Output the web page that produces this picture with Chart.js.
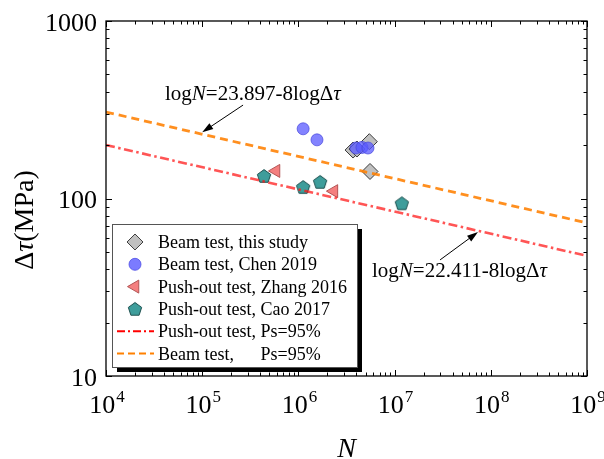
<!DOCTYPE html>
<html>
<head>
<meta charset="utf-8">
<script src="https://cdn.jsdelivr.net/npm/chart.js@4.4.0/dist/chart.umd.min.js"></script>
<style>
    html, body { margin: 0; padding: 0; background: #fff; }
    canvas { display: block; }
</style>
</head>
<body>
<canvas id="fatigueChart" width="604" height="459"></canvas>
<script>
// values (N = cycles, tau = stress range in MPa)
const thisStudyN = [5.46e6, 5.55e6, 3.70e6, 4.06e6];
const thisStudyTau = [209, 142, 187.5, 190];
const chenN = [1.12e6, 1.56e6, 3.97e6, 4.58e6, 5.29e6];
const chenTau = [247, 214, 192.5, 194, 192.5];
const zhangN = [5.85e5, 2.34e6];
const zhangTau = [143, 110];
const caoN = [4.39e5, 1.12e6, 1.68e6, 1.19e7];
const caoTau = [134, 116, 124, 94];
// design lines, end points at the axis limits
const lineN = [1e4, 1e9];
const beamLineTau = [307, 72.8];
const pushLineTau = [200, 47.5];
// axes
const xTickValues = [1e4, 1e5, 1e6, 1e7, 1e8, 1e9];
const xTickExp = ['4', '5', '6', '7', '8', '9'];
const yTickValues = [10, 100, 1000];
const yTickLabels = ['10', '100', '1000'];

const SERIF = '"Liberation Serif", "Times New Roman", serif';

function toPoints(xs, ys) {
    return xs.map((x, i) => ({x: x, y: ys[i]}));
}

// pentagon marker as an image, chart.js has no pentagon pointStyle
function makePentagon(r) {
    const c = document.createElement('canvas');
    const s = Math.ceil(r * 2 + 4);
    c.width = s;
    c.height = s;
    const g = c.getContext('2d');
    g.beginPath();
    for (let i = 0; i < 5; i++) {
        const a = -Math.PI / 2 + i * 2 * Math.PI / 5;
        const px = s / 2 + r * Math.cos(a);
        const py = s / 2 + 0.6 + r * Math.sin(a);
        if (i === 0) g.moveTo(px, py); else g.lineTo(px, py);
    }
    g.closePath();
    g.fillStyle = '#3e9d9b';
    g.fill();
    g.lineWidth = 1;
    g.strokeStyle = '#1d4f4e';
    g.stroke();
    return c;
}
const pentagonImg = makePentagon(7);

// annotation text, drawn as runs (italic where the figure has italics)
const annotations = [
    {
        at: [4.1e4, 361],
        tail: [2.66e5, 336],
        tip: [1.0e5, 236],
        runs: [['log', false], ['N', true], ['=23.897-8log\u0394', false], ['\u03c4', true]],
    },
    {
        at: [5.82e6, 36.1],
        tail: [2.97e7, 45.1],
        tip: [7.36e7, 64.7],
        runs: [['log', false], ['N', true], ['=22.411-8log\u0394', false], ['\u03c4', true]],
    },
];

function drawRuns(ctx, runs, x, y, size) {
    let cx = x;
    runs.forEach(([t, it]) => {
        ctx.font = (it ? 'italic ' : '') + size + 'px ' + SERIF;
        ctx.fillText(t, cx, y);
        cx += ctx.measureText(t).width;
    });
}

function drawArrow(ctx, x0, y0, x1, y1) {
    const ang = Math.atan2(y1 - y0, x1 - x0);
    const hl = 11, hw = 3.5;
    ctx.beginPath();
    ctx.moveTo(x0, y0);
    ctx.lineTo(x1 - Math.cos(ang) * hl * 0.8, y1 - Math.sin(ang) * hl * 0.8);
    ctx.lineWidth = 1;
    ctx.strokeStyle = '#000';
    ctx.stroke();
    ctx.beginPath();
    ctx.moveTo(x1, y1);
    ctx.lineTo(x1 - Math.cos(ang) * hl - Math.sin(ang) * hw, y1 - Math.sin(ang) * hl + Math.cos(ang) * hw);
    ctx.lineTo(x1 - Math.cos(ang) * hl + Math.sin(ang) * hw, y1 - Math.sin(ang) * hl - Math.cos(ang) * hw);
    ctx.closePath();
    ctx.fillStyle = '#000';
    ctx.fill();
}

function legendMarker(ctx, kind, x, y) {
    ctx.save();
    ctx.lineWidth = 1;
    if (kind === 'diamond') {
        ctx.beginPath();
        ctx.moveTo(x - 8, y); ctx.lineTo(x, y - 8); ctx.lineTo(x + 8, y); ctx.lineTo(x, y + 8);
        ctx.closePath();
        ctx.fillStyle = '#c0c0c0'; ctx.fill();
        ctx.strokeStyle = '#404040'; ctx.stroke();
    } else if (kind === 'circle') {
        ctx.beginPath();
        ctx.arc(x, y, 6, 0, Math.PI * 2);
        ctx.fillStyle = 'rgba(100,100,255,0.85)'; ctx.fill();
        ctx.strokeStyle = 'rgba(80,80,230,0.8)'; ctx.stroke();
    } else if (kind === 'triangle') {
        const r = 7.5;
        ctx.beginPath();
        for (let i = 0; i < 3; i++) {
            const a = Math.PI + i * 2 * Math.PI / 3;
            const px = x + r * Math.cos(a), py = y + r * Math.sin(a);
            if (i === 0) ctx.moveTo(px, py); else ctx.lineTo(px, py);
        }
        ctx.closePath();
        ctx.fillStyle = '#f47f7f'; ctx.fill();
        ctx.strokeStyle = '#b35454'; ctx.stroke();
    } else if (kind === 'pentagon') {
        ctx.drawImage(pentagonImg, x - pentagonImg.width / 2, y - pentagonImg.height / 2);
    }
    ctx.restore();
}

const framePlugin = {
    id: 'framePlugin',
    afterDraw(chart) {
        const ctx = chart.ctx;
        const area = chart.chartArea;
        const xs = chart.scales.x;
        const ys = chart.scales.y;
        ctx.save();

        // annotations
        ctx.fillStyle = '#000';
        ctx.textBaseline = 'alphabetic';
        ctx.textAlign = 'left';
        annotations.forEach((a) => {
            drawRuns(ctx, a.runs, xs.getPixelForValue(a.at[0]), ys.getPixelForValue(a.at[1]), 21);
            drawArrow(ctx,
                xs.getPixelForValue(a.tail[0]), ys.getPixelForValue(a.tail[1]),
                xs.getPixelForValue(a.tip[0]), ys.getPixelForValue(a.tip[1]));
        });

        // legend with drop shadow
        const lx = 112, ly = 224, lw = 245, lh = 143;
        ctx.fillStyle = '#000';
        ctx.fillRect(lx + 5, ly + 5, lw, lh);
        ctx.fillStyle = '#fff';
        ctx.fillRect(lx, ly, lw, lh);
        ctx.lineWidth = 1;
        ctx.strokeStyle = '#555';
        ctx.strokeRect(lx + 0.5, ly + 0.5, lw, lh);
        const rows = [
            ['diamond', 'Beam test, this study'],
            ['circle', 'Beam test, Chen 2019'],
            ['triangle', 'Push-out test, Zhang 2016'],
            ['pentagon', 'Push-out test, Cao 2017'],
            ['pushline', 'Push-out test, Ps=95%'],
            ['beamline', 'Beam test,'],
        ];
        ctx.font = '18px ' + SERIF;
        let psX = 0;
        rows.forEach(([kind, label], i) => {
            const ry = 242 + i * 22.3;
            if (kind === 'pushline' || kind === 'beamline') {
                ctx.save();
                ctx.beginPath();
                ctx.moveTo(117, ry);
                ctx.lineTo(154, ry);
                ctx.lineWidth = 2;
                if (kind === 'pushline') {
                    ctx.strokeStyle = '#ff0000';
                    ctx.setLineDash([8, 3, 2, 3]);
                } else {
                    ctx.strokeStyle = '#ff8000';
                    ctx.setLineDash([7, 4]);
                }
                ctx.stroke();
                ctx.restore();
            } else {
                legendMarker(ctx, kind, 135, ry);
            }
            ctx.fillStyle = '#000';
            ctx.font = '18px ' + SERIF;
            ctx.fillText(label, 158, ry + 6);
            if (kind === 'pushline') {
                psX = 158 + ctx.measureText('Push-out test, ').width;
            }
            if (kind === 'beamline') {
                ctx.fillText('Ps=95%', psX, ry + 6);
            }
        });

        // frame
        ctx.lineWidth = 1.3;
        ctx.strokeStyle = '#000';
        ctx.strokeRect(area.left, area.top, area.right - area.left, area.bottom - area.top);

        // inward ticks on all four sides
        ctx.lineWidth = 1;
        ctx.beginPath();
        for (let d = 4; d <= 9; d++) {
            for (let m = 1; m <= 9; m++) {
                if (d === 9 && m > 1) break;
                const px = Math.round(xs.getPixelForValue(m * Math.pow(10, d))) + 0.5;
                const len = m === 1 ? 6 : 3.5;
                ctx.moveTo(px, area.bottom);
                ctx.lineTo(px, area.bottom - len);
                ctx.moveTo(px, area.top);
                ctx.lineTo(px, area.top + len);
            }
        }
        for (let d = 1; d <= 3; d++) {
            for (let m = 1; m <= 9; m++) {
                if (d === 3 && m > 1) break;
                const py = Math.round(ys.getPixelForValue(m * Math.pow(10, d))) + 0.5;
                const len = m === 1 ? 6 : 3.5;
                ctx.moveTo(area.left, py);
                ctx.lineTo(area.left + len, py);
                ctx.moveTo(area.right, py);
                ctx.lineTo(area.right - len, py);
            }
        }
        ctx.stroke();

        // tick labels
        ctx.fillStyle = '#000';
        ctx.textAlign = 'right';
        ctx.font = '26px ' + SERIF;
        yTickValues.forEach((v, i) => {
            ctx.fillText(yTickLabels[i], area.left - 9, ys.getPixelForValue(v) + 9.5);
        });
        ctx.textAlign = 'left';
        xTickValues.forEach((v, i) => {
            ctx.font = '26px ' + SERIF;
            const baseW = ctx.measureText('10').width;
            ctx.font = '17px ' + SERIF;
            const expW = ctx.measureText(xTickExp[i]).width;
            const total = baseW + 1 + expW;
            const left = xs.getPixelForValue(v) - total / 2 + 1;
            ctx.font = '26px ' + SERIF;
            ctx.fillText('10', left, area.bottom + 37);
            ctx.font = '17px ' + SERIF;
            ctx.fillText(xTickExp[i], left + baseW + 1, area.bottom + 26);
        });

        // axis titles
        ctx.textAlign = 'center';
        ctx.font = 'italic 28px ' + SERIF;
        ctx.fillText('N', (area.left + area.right) / 2, 457);

        ctx.save();
        ctx.translate(33, 220);
        ctx.rotate(-Math.PI / 2);
        const yRuns = [['\u0394', false], ['\u03c4', true], ['(MPa)', false]];
        let w = 0;
        yRuns.forEach(([t, it]) => {
            ctx.font = (it ? 'italic ' : '') + '28px ' + SERIF;
            w += ctx.measureText(t).width;
        });
        ctx.textAlign = 'left';
        drawRuns(ctx, yRuns, -w / 2, 0, 28);
        ctx.restore();

        ctx.restore();
    }
};

const ctx = document.getElementById('fatigueChart');
const myChart = new Chart(ctx, {
    type: 'scatter',
    data: {
        datasets: [
            {
                label: 'Push-out test, Ps=95%',
                data: toPoints(lineN, pushLineTau),
                showLine: true,
                pointRadius: 0,
                borderColor: 'rgba(255,20,20,0.72)',
                borderWidth: 2.6,
                borderDash: [9, 3.5, 2.5, 3.5],
                order: 0,
            },
            {
                label: 'Beam test, Ps=95%',
                data: toPoints(lineN, beamLineTau),
                showLine: true,
                pointRadius: 0,
                borderColor: 'rgba(255,128,0,0.88)',
                borderWidth: 2.8,
                borderDash: [8, 5],
                order: 0,
            },
            {
                label: 'Beam test, Chen 2019',
                data: toPoints(chenN, chenTau),
                pointStyle: 'circle',
                pointRadius: 6,
                backgroundColor: 'rgba(90,90,255,0.75)',
                borderColor: 'rgba(70,70,220,0.7)',
                borderWidth: 1,
                order: 1,
            },
            {
                label: 'Beam test, this study',
                data: toPoints(thisStudyN, thisStudyTau),
                pointStyle: 'rectRot',
                pointRadius: 8,
                backgroundColor: '#c0c0c0',
                borderColor: '#3a3a3a',
                borderWidth: 1,
                order: 2,
            },
            {
                label: 'Push-out test, Zhang 2016',
                data: toPoints(zhangN, zhangTau),
                pointStyle: 'triangle',
                rotation: -90,
                pointRadius: 7.5,
                backgroundColor: '#f47f7f',
                borderColor: '#b35454',
                borderWidth: 1,
                order: 2,
            },
            {
                label: 'Push-out test, Cao 2017',
                data: toPoints(caoN, caoTau),
                pointStyle: pentagonImg,
                order: 2,
            },
        ]
    },
    options: {
        responsive: false,
        animation: false,
        events: [],
        layout: {
            padding: {left: 106, right: 17, top: 21, bottom: 83},
        },
        plugins: {
            legend: {display: false},
            tooltip: {enabled: false},
        },
        scales: {
            x: {
                type: 'logarithmic',
                min: 1e4,
                max: 1e9,
                display: false,
            },
            y: {
                type: 'logarithmic',
                min: 10,
                max: 1000,
                display: false,
            }
        }
    },
    plugins: [framePlugin],
});
</script>
</body>
</html>
